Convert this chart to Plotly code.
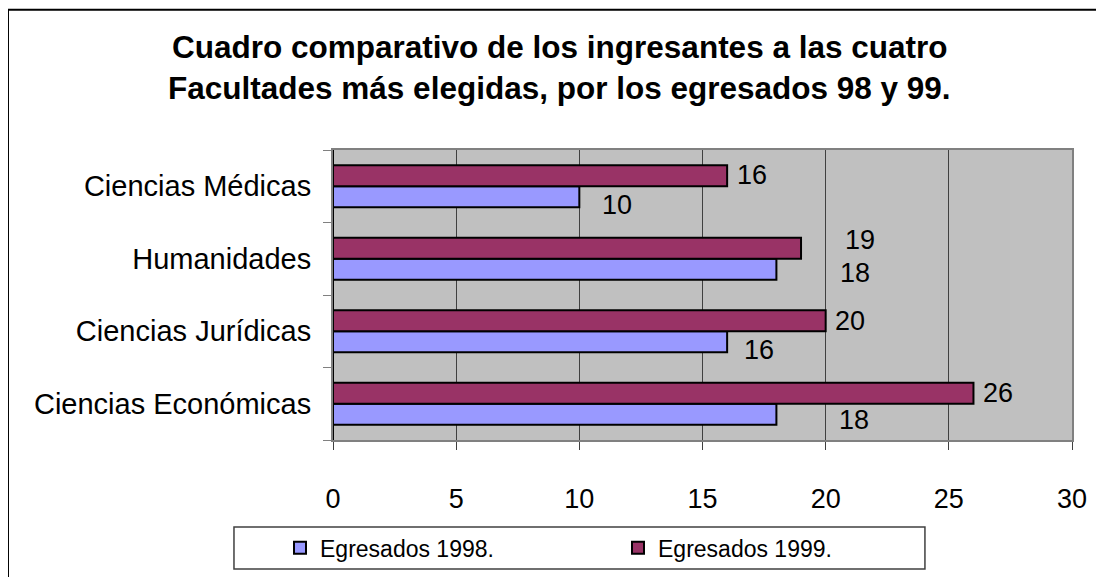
import plotly.graph_objects as go

categories = ["Ciencias Médicas", "Humanidades", "Ciencias Jurídicas", "Ciencias Económicas"]
egresados_1998 = [10, 18, 16, 18]
egresados_1999 = [16, 19, 20, 26]
series_names = ["Egresados 1998.", "Egresados 1999."]
x_ticks = [0, 5, 10, 15, 20, 25, 30]
title_lines = ["Cuadro comparativo de los ingresantes a las cuatro",
               "Facultades más elegidas, por los egresados 98 y 99."]

# label offsets (pixels) — styling only
shift_1998 = [(38, -19), (79, -14), (32, -19), (78, -16)]
shift_1999 = [(25, 11), (59, 19), (24, 10), (25, 11)]

FONT = "Liberation Sans, Arial, sans-serif"
C98 = "#9999FF"
C99 = "#993366"

fig = go.Figure()
fig.add_trace(go.Bar(y=categories, x=egresados_1998, orientation="h", name=series_names[0],
                     marker=dict(color=C98, line=dict(color="black", width=2))))
fig.add_trace(go.Bar(y=categories, x=egresados_1999, orientation="h", name=series_names[1],
                     marker=dict(color=C99, line=dict(color="black", width=2))))

ann = []
for vals, shifts in ((egresados_1998, shift_1998), (egresados_1999, shift_1999)):
    for cat, v, (dx, dy) in zip(categories, vals, shifts):
        ann.append(dict(x=v, y=cat, xref="x", yref="y", text=str(v), showarrow=False,
                        xanchor="center", yanchor="middle", xshift=dx, yshift=dy,
                        font=dict(family=FONT, size=27, color="black")))
for i, line in enumerate(title_lines):
    ann.append(dict(x=0.307, y=[1.355, 1.2138][i], xref="paper", yref="paper", text="<b>%s</b>" % line,
                    showarrow=False, xanchor="center", yanchor="middle",
                    font=dict(family=FONT, size=31.5, color="black")))

shapes = [
    # outer chart border
    dict(type="rect", xref="paper", yref="paper", x0=-0.4398, x1=1.06, y0=-0.6, y1=1.484,
         line=dict(color="black", width=2), fillcolor="rgba(0,0,0,0)", layer="below"),
    # legend box
    dict(type="rect", xref="paper", yref="paper", x0=-0.134, x1=0.801, y0=-0.3, y1=-0.445,
         line=dict(color="#404040", width=1.5), fillcolor="white", layer="below"),
]

fig.update_layout(
    width=1104, height=577,
    margin=dict(l=325, r=40, t=142, b=145),
    paper_bgcolor="white", plot_bgcolor="#C0C0C0",
    barmode="group", bargap=0.42, bargroupgap=0,
    font=dict(family=FONT, color="black"),
    showlegend=True,
    legend=dict(orientation="h", x=-0.0717, xanchor="left", y=-0.372, yanchor="middle",
                bgcolor="rgba(0,0,0,0)", borderwidth=0, entrywidth=293, entrywidthmode="pixels",
                font=dict(family=FONT, size=23, color="black"), traceorder="normal"),
    annotations=ann, shapes=shapes,
    xaxis=dict(range=[0, 30], tickvals=x_ticks, showgrid=True, gridcolor="#404040", gridwidth=1,
               zeroline=True, zerolinecolor="black", zerolinewidth=2,
               showline=True, mirror=True, linecolor="#808080", linewidth=2,
               ticks="outside", ticklen=8, tickcolor="#404040", ticklabelstandoff=26,
               tickfont=dict(family=FONT, size=27, color="black"), fixedrange=True),
    yaxis=dict(categoryorder="array", categoryarray=categories[::-1], showgrid=False,
               showline=True, mirror=True, linecolor="#808080", linewidth=2,
               ticks="outside", ticklen=8, tickcolor="#808080", tickson="boundaries",
               ticklabelstandoff=14, tickfont=dict(family=FONT, size=29, color="black"),
               fixedrange=True),
)

fig.write_html("out.html")
